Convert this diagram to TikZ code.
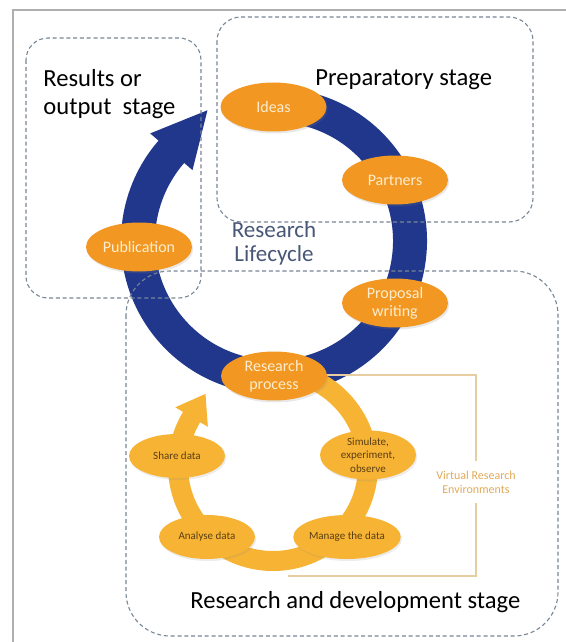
\documentclass[tikz,border=0pt]{standalone}
\usepackage{fontspec}
\setmainfont{Carlito}
\usetikzlibrary{calc,shapes.geometric,shadows}

\definecolor{bandblue}{RGB}{33,55,140}
\definecolor{orangefill}{RGB}{242,152,34}
\definecolor{creamtext}{RGB}{253,236,205}
\definecolor{goldfill}{RGB}{247,180,52}
\definecolor{browntext}{RGB}{90,62,20}
\definecolor{bracketline}{RGB}{232,205,160}
\definecolor{vretext}{RGB}{225,170,90}
\definecolor{lifetext}{RGB}{72,86,120}
\definecolor{dashgrey}{RGB}{120,135,150}
\definecolor{framegrey}{RGB}{175,175,175}

\begin{document}
\begin{tikzpicture}[x=0.5pt,y=-0.5pt,
  stagebox/.style={draw=dashgrey, line width=0.55pt, dash pattern=on 2pt off 1.4pt},
  outerev/.style={ellipse, fill=orangefill, minimum width=53pt, minimum height=24.5pt,
    inner sep=0pt, text=creamtext, font=\fontsize{8}{9}\selectfont, align=center,
    drop shadow={shadow xshift=0.6pt, shadow yshift=-1pt, opacity=0.18}},
  innerev/.style={ellipse, fill=goldfill, minimum width=48pt, minimum height=22pt,
    inner sep=0pt, text=browntext, font=\fontsize{5.5}{6.75}\selectfont, align=center,
    drop shadow={shadow xshift=0.6pt, shadow yshift=-1pt, opacity=0.15}},
  stagelabel/.style={anchor=base west, inner sep=0pt, font=\fontsize{12.3}{14}\selectfont},
  lifecycle/.style={inner sep=0pt, align=center, text=lifetext, font=\fontsize{11.5}{12}\selectfont},
  vrelabel/.style={inner sep=0pt, minimum height=21pt, align=center, text=vretext,
    font=\fontsize{6}{7}\selectfont},
  bracket/.style={draw=bracketline, line width=0.75pt},
]
\useasboundingbox (0,0) rectangle (566,642);
\fill[white] (0,0) rectangle (566,642);

% page frame
\draw[framegrey, line width=1pt] (13,642) -- (13,10) -- (566,10);

% outer lifecycle ring with its arrowhead
\coordinate (ring) at (274,241);
\draw[bandblue, line width=17pt] ($(ring)+(-80:136)$) arc[start angle=-80, end angle=222, radius=136];
\fill[bandblue] ($(ring)+(221:164)$) -- ($(ring)+(221:136)+(311:55)$) -- ($(ring)+(221:108)$) -- cycle;

% inner research-process ring with its arrowhead
\coordinate (cyc) at (273,466);
\draw[goldfill, line width=10pt] ($(cyc)+(-80:95)$) arc[start angle=-80, end angle=212, radius=95];
\fill[goldfill] ($(cyc)+(211:114)$) -- ($(cyc)+(211:95)+(301:27)$) -- ($(cyc)+(211:76)$) -- cycle;

% virtual research environments bracket
\node[vrelabel] (vre) at (476,482) {Virtual Research\\Environments};
\coordinate (brTL) at (300,375);
\coordinate (brTR) at (476,375);
\coordinate (brBR) at (476,576);
\coordinate (brBL) at (288,576);
\draw[bracket] (brTL) -- (brTR) -- (vre.north);
\draw[bracket] (vre.south) -- (brBR) -- (brBL);

% lifecycle stages
\node[outerev] (ideas) at (273.5,107) {Ideas};
\node[outerev] (partners) at (395,180) {Partners};
\node[outerev] (proposal) at (395,303) {Proposal\\writing};
\node[outerev] (resproc) at (274,376) {Research\\process};
\node[outerev] (publication) at (139,247) {Publication};

% research process steps
\node[innerev] (simulate) at (368,455) {Simulate,\\experiment,\\observe};
\node[innerev] (manage) at (347,537) {Manage the data};
\node[innerev] (analyse) at (207,537) {Analyse data};
\node[innerev] (share) at (177,456) {Share data};

% stage boxes
\draw[stagebox, rounded corners=11pt] (26,38) rectangle (201,298);
\draw[stagebox, rounded corners=12pt] (217,17) rectangle (533,222);
\draw[stagebox, rounded corners=22pt] (126,271) rectangle (558,636);

% stage titles
\node[stagelabel] (resultsA) at (43,87) {Results or};
\node[stagelabel] (resultsB) at (43,115) {output\ \ stage};
\node[stagelabel] (prep) at (315,86) {Preparatory stage};
\node[stagelabel] (rnd) at (190,608) {Research and development stage};
\node[lifecycle] (life) at (274,243) {Research\\Lifecycle};
\end{tikzpicture}
\end{document}
